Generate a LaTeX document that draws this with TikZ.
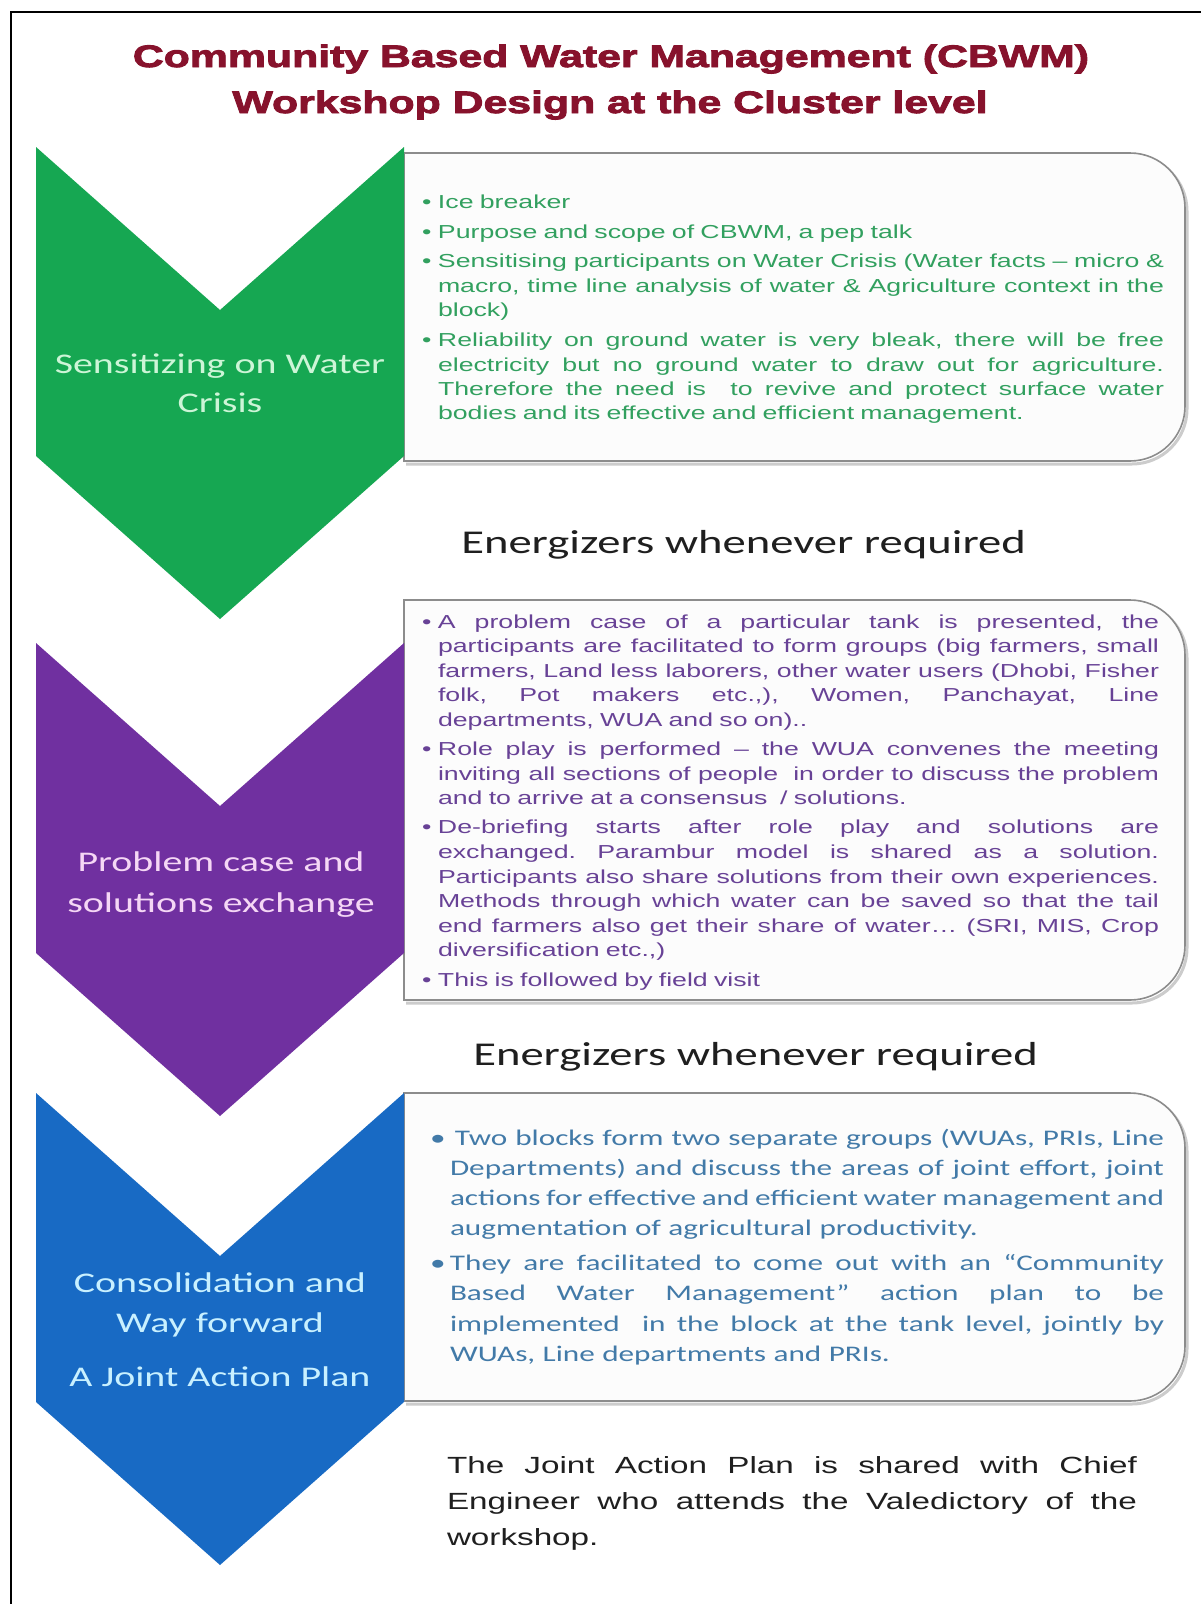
\documentclass[tikz,border=0pt]{standalone}
\usepackage{fontspec}
\setmainfont{Liberation Sans}
\newfontfamily\arialS[FakeStretch=1.42]{Liberation Sans}
\newfontfamily\calS[FakeStretch=1.4]{Carlito}
\newfontfamily\titleF[FakeStretch=1.38,FakeBold=3]{Liberation Sans}
\definecolor{gchev}{RGB}{22,167,82}
\definecolor{pchev}{RGB}{112,48,160}
\definecolor{bchev}{RGB}{24,106,196}
\definecolor{titlered}{RGB}{135,18,44}
\definecolor{glab}{RGB}{205,245,215}
\definecolor{plab}{RGB}{245,215,245}
\definecolor{blab}{RGB}{200,240,255}
\definecolor{gtext}{RGB}{50,160,95}
\definecolor{ptext}{RGB}{104,66,150}
\definecolor{btext}{RGB}{66,122,168}
\definecolor{boxgray}{RGB}{140,140,140}
\definecolor{boxfill}{RGB}{252,252,252}
\newlength\bi
\newlength\lw
\newcommand\bulx{\makebox[\bi][l]{\textbullet}}
\newcommand\indx{\hspace*{\bi}}
\newcommand\jw[2]{\leavevmode{\frenchspacing\spaceskip=\fontdimen2\font plus 1fil minus .3\fontdimen2\font\relax\hbox to #1{#2}}}
\newcommand\jl[1]{\jw{\lw}{#1}}
\newcommand\sidebox[2]{%
  \draw[boxshadow] (406,#1+3) -- (1132,#1+3) arc[start angle=90,end angle=0,radius=55pt] -- (1187,#2+3-55) arc[start angle=0,end angle=-90,radius=55pt] -- (406,#2+3);
  \draw[boxline] (404,#1) -- (1130,#1) arc[start angle=90,end angle=0,radius=55pt] -- (1185,#2-55) arc[start angle=0,end angle=-90,radius=55pt] -- (404,#2) -- cycle;}
\newcommand\chevron[3]{%
  \fill[#3] (36,#1) -- (220,#1+163) -- (404,#1) -- (404,#2) -- (220,#2+163) -- (36,#2) -- cycle;}
\begin{document}
\begin{tikzpicture}[x=1pt,y=-1pt,inner sep=0pt,outer sep=0pt,
  boxline/.style={draw=boxgray,line width=1.6pt,fill=boxfill},
  boxshadow/.style={draw=black!20,line width=3pt},
  chevlab/.style={anchor=base,font=\calS\fontsize{28.5}{34}\selectfont},
  energ/.style={anchor=base,font=\calS\fontsize{33.3}{40}\selectfont,text=black!88},
  boxtext/.style={anchor=north west,align=left},
  titletext/.style={anchor=base,font=\titleF\bfseries\fontsize{31}{36}\selectfont,text=titlered}]
\useasboundingbox (0,0) rectangle (1201,1604);
\fill[white] (0,0) rectangle (1201,1604);
\draw[line width=2pt] (11,1604) -- (11,12) -- (1201,12);

% title
\node[titletext] (title1) at (611,67) {Community Based Water Management (CBWM)};
\node[titletext] (title2) at (610,113) {Workshop Design at the Cluster level};

% side boxes
\sidebox{153}{461}
\sidebox{600}{1000}
\sidebox{1093}{1401}

% chevrons
\chevron{147}{456}{gchev}
\chevron{643}{953}{pchev}
\chevron{1093}{1402}{bchev}

% chevron labels
\node[chevlab,text=glab] (g1) at (220,373) {Sensitizing on Water};
\node[chevlab,text=glab] (g2) at (220,412) {Crisis};
\node[chevlab,text=plab] (p1) at (221,871) {Problem case and};
\node[chevlab,text=plab] (p2) at (221,912) {solutions exchange};
\node[chevlab,text=blab] (b1) at (220,1292) {Consolidation and};
\node[chevlab,text=blab] (b2) at (220,1332) {Way forward};
\node[chevlab,text=blab] (b3) at (220,1386) {A Joint Action Plan};

% energizers
\node[energ] (e1) at (743.5,553.6) {Energizers whenever required};
\node[energ] (e2) at (755.5,1065.6) {Energizers whenever required};

% box 1 text
\global\bi=16pt\relax
\global\lw=726pt\relax
\node[boxtext,text width=742pt,font=\arialS\fontsize{18.8}{24.4}\selectfont,text=gtext] (txt1) at (422,194.5) {%
\bulx Ice breaker\\[5.5pt]
\bulx Purpose and scope of CBWM, a pep talk\\[5.5pt]
\bulx\jl{Sensitising participants on Water Crisis (Water facts – micro \&}\\
\indx\jl{macro, time line analysis of water \& Agriculture context in the}\\
\indx block)\\[5.5pt]
\bulx\jl{Reliability on ground water is very bleak, there will be free}\\
\indx\jl{electricity but no ground water to draw out for agriculture.}\\
\indx\jl{Therefore the need is\ \ to revive and protect surface water}\\
\indx bodies and its effective and efficient management.};

% box 2 text
\global\lw=721pt\relax
\node[boxtext,text width=737pt,font=\arialS\fontsize{18.8}{24.6}\selectfont,text=ptext] (txt2) at (422,614.5) {%
\bulx\jl{A problem case of a particular tank is presented, the}\\
\indx\jl{participants are facilitated to form groups (big farmers, small}\\
\indx\jl{farmers, Land less laborers, other water users (Dhobi, Fisher}\\
\indx\jl{folk, Pot makers etc.,), Women, Panchayat, Line}\\
\indx departments, WUA and so on)..\\[4.5pt]
\bulx\jl{Role play is performed – the WUA convenes the meeting}\\
\indx\jl{inviting all sections of people\ \ in order to discuss the problem}\\
\indx and to arrive at a consensus\ \ / solutions.\\[4.5pt]
\bulx\jl{De-briefing starts after role play and solutions are}\\
\indx\jl{exchanged. Parambur model is shared as a solution.}\\
\indx\jl{Participants also share solutions from their own experiences.}\\
\indx\jl{Methods through which water can be saved so that the tail}\\
\indx\jl{end farmers also get their share of water… (SRI, MIS, Crop}\\
\indx diversification etc.,)\\[4.5pt]
\bulx This is followed by field visit};

% box 3 text
\global\bi=20pt\relax
\global\lw=714pt\relax
\node[boxtext,text width=734pt,font=\calS\fontsize{22.3}{30.2}\selectfont,text=btext] (txt3) at (430,1129) {%
\bulx\hspace*{5pt}\jw{709pt}{Two blocks form two separate groups (WUAs, PRIs, Line}\\
\indx\jl{Departments) and discuss the areas of joint effort, joint}\\
\indx\jl{actions for effective and efficient water management and}\\
\indx augmentation of agricultural productivity.\\[4.5pt]
\bulx\jl{They are facilitated to come out with an “Community}\\
\indx\jl{Based Water Management” action plan to be}\\
\indx\jl{implemented\ \ in the block at the tank level, jointly by}\\
\indx WUAs, Line departments and PRIs.};

% final text
\global\lw=690pt\relax
\node[boxtext,text width=690pt,font=\arialS\fontsize{23.4}{35.8}\selectfont,text=black!88] (final) at (447,1457) {%
\jl{The Joint Action Plan is shared with Chief}\\
\jl{Engineer who attends the Valedictory of the}\\
workshop.};
\end{tikzpicture}
\end{document}
